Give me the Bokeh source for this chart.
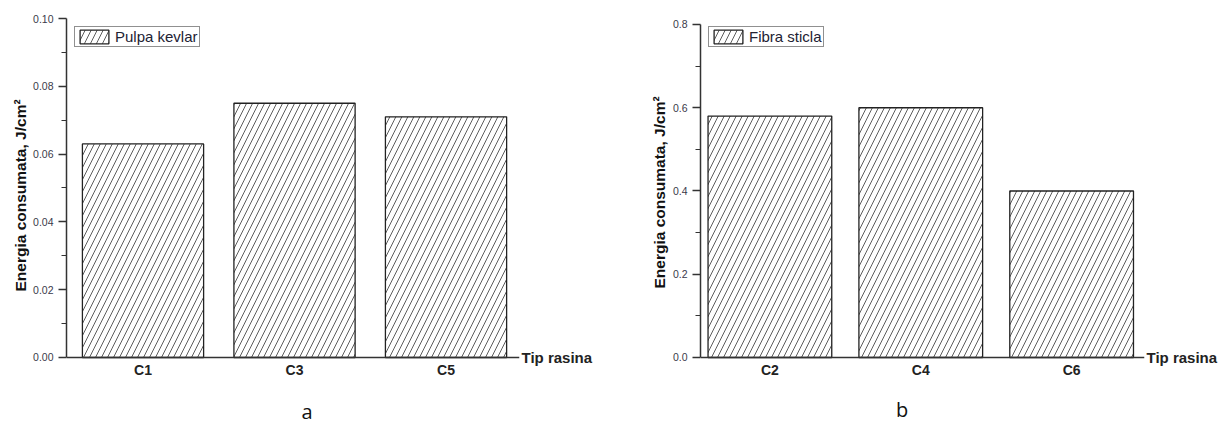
from bokeh.plotting import figure
from bokeh.layouts import row
from bokeh.models import (ColumnDataSource, FixedTicker, Range1d, Legend, LegendItem,
                          NumeralTickFormatter, LinearAxis, Label, Title)
from bokeh.embed import file_html
from bokeh.resources import INLINE

# ---- data ----
cats_a = ["C1", "C3", "C5"]
vals_a = [0.063, 0.075, 0.071]
name_a = "Pulpa kevlar"

cats_b = ["C2", "C4", "C6"]
vals_b = [0.58, 0.60, 0.40]
name_b = "Fibra sticla"

yticks_a = [0.00, 0.02, 0.04, 0.06, 0.08, 0.10]
yticks_b = [0.0, 0.2, 0.4, 0.6, 0.8]

ylabel = "Energia consumata, J/cm²"
xlabel = "Tip rasina"

NARROW = "Liberation Sans Narrow, Arial Narrow, Liberation Sans"


def make(cats, vals, name, yticks, fmt, x_start, x_end, y_start, y_end, bwidth, bl, br,
         panel, panel_x, panel_y, ylab_off):
    ymax = yticks[-1]
    p = figure(width=610, height=425, output_backend="svg", toolbar_location=None,
               x_range=Range1d(x_start, x_end), y_range=Range1d(y_start, y_end),
               min_border_left=bl, min_border_right=br, min_border_top=18, min_border_bottom=0)
    p.outline_line_color = None
    p.grid.visible = False
    xs = list(range(1, len(cats) + 1))
    src = ColumnDataSource(dict(x=xs, top=vals))
    r = p.vbar(x="x", top="top", bottom=0, width=bwidth, source=src, fill_color="white",
               line_color="#222222", line_width=1.3,
               hatch_pattern="/", hatch_color="#333333", hatch_scale=12, hatch_weight=0.8)

    # y axis
    ya = p.yaxis[0]
    minor = [round(t + (yticks[1] - yticks[0]) / 2, 4) for t in yticks[:-1]]
    ya.ticker = FixedTicker(ticks=yticks, minor_ticks=minor)
    ya.bounds = (0, ymax)
    ya.formatter = NumeralTickFormatter(format=fmt)
    ya.major_tick_out = 8
    ya.major_tick_in = 0
    ya.minor_tick_out = 5
    ya.minor_tick_in = 0
    ya.axis_line_width = 1.5
    ya.axis_line_color = "#333333"
    ya.major_tick_line_color = "#333333"
    ya.minor_tick_line_color = "#333333"
    ya.major_tick_line_width = 1.3
    ya.major_label_text_font = "Liberation Sans"
    ya.major_label_text_font_size = "10.5px"
    ya.major_label_text_color = "#3a3a4a"
    ya.major_label_standoff = 5

    # y axis title (placed relative to the axis part of the frame)
    p.add_layout(Title(text=ylabel, align="left", offset=ylab_off, standoff=3,
                       text_font="Liberation Sans", text_font_style="bold",
                       text_font_size="15.5px", text_color="#111111"), "left")

    # x axis, pinned at y = 0
    xa = p.xaxis[0]
    xa.fixed_location = 0
    xa.ticker = FixedTicker(ticks=xs)
    xa.major_label_overrides = {x: c for x, c in zip(xs, cats)}
    xa.major_tick_line_color = None
    xa.minor_tick_line_color = None
    xa.major_tick_out = 0
    xa.major_tick_in = 0
    xa.minor_tick_out = 0
    xa.axis_line_width = 1.5
    xa.axis_line_color = "#333333"
    xa.major_label_text_font = NARROW
    xa.major_label_text_font_style = "bold"
    xa.major_label_text_font_size = "14px"
    xa.major_label_text_color = "#222222"
    xa.major_label_standoff = 5

    # axis title at the end of the x axis: a bare axis on the right with one label at y=0
    ra = LinearAxis(ticker=FixedTicker(ticks=[0]), major_label_overrides={0: xlabel},
                    axis_line_color=None, major_tick_line_color=None, minor_tick_line_color=None,
                    major_tick_out=0, minor_tick_out=0,
                    major_label_standoff=2, major_label_text_font=NARROW,
                    major_label_text_font_style="bold", major_label_text_font_size="15px",
                    major_label_text_color="#222222")
    p.add_layout(ra, "right")

    # panel letter
    p.add_layout(Label(x=panel_x, y=panel_y, text=panel, text_font="Open Sans",
                       text_font_size="20px", text_color="#111111",
                       text_align="center", text_baseline="middle"))

    leg = Legend(items=[LegendItem(label=name, renderers=[r])], location="top_left",
                 margin=8, padding=1, spacing=0, glyph_width=36, glyph_height=17,
                 label_height=17, label_standoff=3, label_text_font="Liberation Sans",
                 label_text_font_size="15px", label_text_color="#222233",
                 border_line_color="#222222", border_line_width=1.2, background_fill_alpha=1)
    p.add_layout(leg)
    return p


# left: 0..0.10 over 339 px (18..357); right: 0..0.8 over 333 px (24..357)
pa = make(cats_a, vals_a, name_a, yticks_a, "0.00", 0.495, 3.485, -0.02006, 0.10, 0.8, 66, 91,
          "a", 2.083, -0.016, 134)
pb = make(cats_b, vals_b, name_b, yticks_b, "0.0", 0.54, 3.483, -0.1634, 0.8144, 0.82, 90, 75,
          "b", 1.876, -0.125, 137)

layout = row(pa, pb)
open("out.html", "w").write(file_html(layout, INLINE))
